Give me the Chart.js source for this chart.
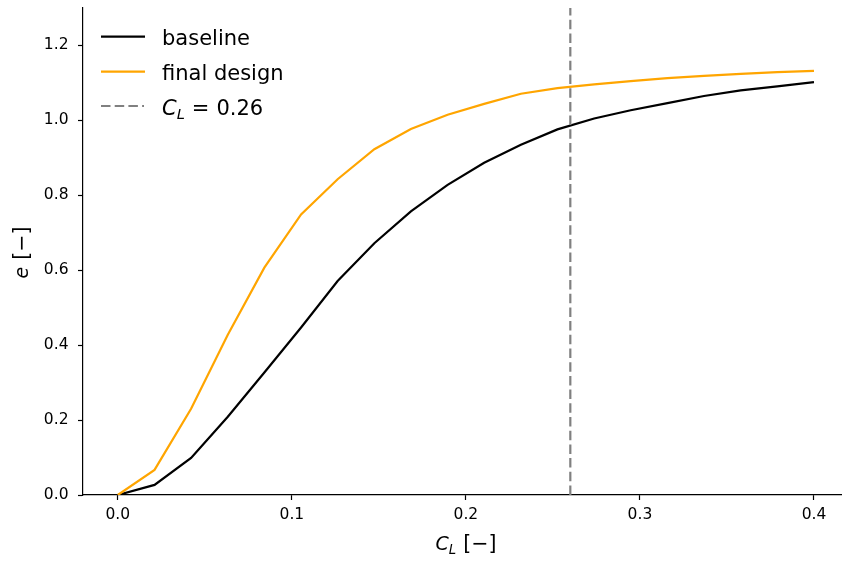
<!DOCTYPE html>
<html>
<head>
<meta charset="utf-8">
<script src="https://cdn.jsdelivr.net/npm/chart.js@4/dist/chart.umd.min.js"></script>
<style>
  html, body { margin: 0; padding: 0; background: #fff; }
  #c { display: block; }
</style>
</head>
<body>
<canvas id="c" width="842" height="562"></canvas>
<script>
// ---- data ----
const liftCoefficient = [0, 0.0211, 0.0421, 0.0632, 0.0842, 0.1053, 0.1263, 0.1474, 0.1684, 0.1895,
                         0.2105, 0.2316, 0.2526, 0.2737, 0.2947, 0.3158, 0.3368, 0.3579, 0.3789, 0.4];
const baselineE = [0, 0.027, 0.099, 0.209, 0.327, 0.447, 0.571, 0.672, 0.757, 0.828,
                   0.887, 0.935, 0.976, 1.005, 1.027, 1.046, 1.065, 1.080, 1.091, 1.102];
const finalDesignE = [0, 0.067, 0.230, 0.428, 0.607, 0.749, 0.843, 0.923, 0.977, 1.015,
                      1.044, 1.071, 1.086, 1.096, 1.105, 1.113, 1.119, 1.124, 1.129, 1.132];
const designCL = 0.26;
const xTickValues = [0.0, 0.1, 0.2, 0.3, 0.4];
const yTickValues = [0.0, 0.2, 0.4, 0.6, 0.8, 1.0, 1.2];
const seriesNames = ['baseline', 'final design'];

const FONT = '"DejaVu Sans", sans-serif';
const ORANGE = '#FFA500';
const GRAY = '#808080';
const DASH = [9.5, 4.2];

function pts(xs, ys) { return xs.map((x, i) => ({ x: x, y: ys[i] })); }

// draws a sequence of text pieces; returns total width
function drawPieces(ctx, pieces, x, y, measureOnly) {
  let cx = x;
  for (const p of pieces) {
    if (p.gap) { cx += p.gap; continue; }
    ctx.font = (p.italic ? 'italic ' : '') + p.size + 'px ' + FONT;
    if (!measureOnly) ctx.fillText(p.t, cx, y + (p.dy || 0));
    cx += ctx.measureText(p.t).width;
  }
  return cx - x;
}

const overlay = {
  id: 'overlay',
  afterDraw(chart) {
    const ctx = chart.ctx;
    ctx.save();
    ctx.fillStyle = '#000';
    ctx.textAlign = 'left';
    ctx.textBaseline = 'alphabetic';

    // x axis title: C_L [−]
    const xt = [
      { t: 'C', size: 19, italic: true },
      { t: 'L', size: 13.3, italic: true, dy: 4 },
      { gap: 7 },
      { t: '[\u2212]', size: 20.5 }
    ];
    const wx = drawPieces(ctx, xt, 0, 0, true);
    drawPieces(ctx, xt, 466 - wx / 2, 549.5, false);

    // y axis title: e [−]
    const yt = [
      { t: 'e', size: 19, italic: true },
      { gap: 7 },
      { t: '[\u2212]', size: 20.5 }
    ];
    const wy = drawPieces(ctx, yt, 0, 0, true);
    ctx.save();
    ctx.translate(27.5, 252.5);
    ctx.rotate(-Math.PI / 2);
    drawPieces(ctx, yt, -wy / 2, 0, false);
    ctx.restore();

    // legend
    const rows = [36.7, 71.7, 106];
    const lx0 = 101, lx1 = 145, tx = 162;
    ctx.lineCap = 'butt';
    ctx.strokeStyle = '#000'; ctx.lineWidth = 2.2; ctx.setLineDash([]);
    ctx.beginPath(); ctx.moveTo(lx0, rows[0]); ctx.lineTo(lx1, rows[0]); ctx.stroke();
    ctx.strokeStyle = ORANGE;
    ctx.beginPath(); ctx.moveTo(lx0, rows[1]); ctx.lineTo(lx1, rows[1]); ctx.stroke();
    ctx.strokeStyle = GRAY; ctx.setLineDash(DASH);
    ctx.beginPath(); ctx.moveTo(lx0, rows[2]); ctx.lineTo(lx1 - 1, rows[2]); ctx.stroke();
    ctx.setLineDash([]);

    ctx.fillStyle = '#000';
    ctx.font = '21px ' + FONT;
    ctx.fillText(seriesNames[0], tx, rows[0] + 8.7);
    ctx.fillText(seriesNames[1], tx, rows[1] + 8.7);
    drawPieces(ctx, [
      { t: 'C', size: 21, italic: true },
      { t: 'L', size: 14.7, italic: true, dy: 4.4 },
      { gap: 7 },
      { t: '=', size: 21 },
      { gap: 7 },
      { t: designCL.toFixed(2), size: 21 }
    ], tx, rows[2] + 8.7, false);

    ctx.restore();
  }
};

new Chart(document.getElementById('c'), {
  type: 'line',
  data: {
    datasets: [
      {
        label: 'C_L = ' + designCL,
        data: [{ x: designCL, y: 0 }, { x: designCL, y: 1.3 }],
        borderColor: GRAY, borderWidth: 2.2, borderDash: DASH,
        pointRadius: 0, order: 1
      },
      {
        label: seriesNames[1],
        data: pts(liftCoefficient, finalDesignE),
        borderColor: ORANGE, borderWidth: 2.2,
        pointRadius: 0, tension: 0, order: 2
      },
      {
        label: seriesNames[0],
        data: pts(liftCoefficient, baselineE),
        borderColor: '#000', borderWidth: 2.2,
        pointRadius: 0, tension: 0, order: 3
      }
    ]
  },
  options: {
    responsive: false,
    animation: false,
    devicePixelRatio: 1,
    layout: { padding: { top: 8, left: 0, right: 0, bottom: 0 } },
    plugins: { legend: { display: false }, tooltip: { enabled: false } },
    scales: {
      x: {
        type: 'linear',
        min: -0.02, max: 0.4161,
        afterBuildTicks: (ax) => { ax.ticks = xTickValues.map(v => ({ value: v })); },
        afterFit: (s) => { s.height = 67; s.paddingLeft = 0; s.paddingRight = 0; },
        ticks: {
          callback: (v) => Number(v).toFixed(1),
          font: { family: FONT, size: 15.5 },
          color: '#000', padding: 6, maxRotation: 0, autoSkip: false
        },
        grid: { drawOnChartArea: false, drawTicks: true, tickLength: 5, tickColor: '#000', tickWidth: 1.2 },
        border: { display: true, color: '#000', width: 1.2 }
      },
      y: {
        type: 'linear',
        min: 0, max: 1.3,
        afterBuildTicks: (ax) => { ax.ticks = yTickValues.map(v => ({ value: v })); },
        afterFit: (s) => { s.width = 83; s.paddingTop = 0; s.paddingBottom = 0; },
        ticks: {
          callback: (v) => Number(v).toFixed(1),
          font: { family: FONT, size: 15.5 },
          color: '#000', padding: 9.5, autoSkip: false
        },
        grid: { drawOnChartArea: false, drawTicks: true, tickLength: 5, tickColor: '#000', tickWidth: 1.2 },
        border: { display: true, color: '#000', width: 1.2 }
      }
    }
  },
  plugins: [overlay]
});
</script>
</body>
</html>
